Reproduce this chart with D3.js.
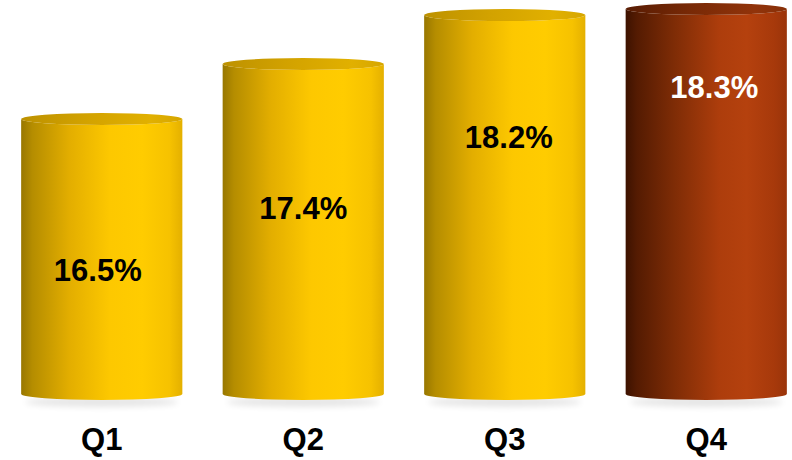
<!DOCTYPE html>
<html>
<head>
<meta charset="utf-8">
<script src="https://cdn.jsdelivr.net/npm/d3@7"></script>
<style>
  html, body { margin: 0; padding: 0; background: #ffffff; }
  svg { display: block; }
</style>
</head>
<body>
<svg id="chart" width="792" height="460"></svg>
<script>
// Quarterly rates shown as cylinders
const quarters = ["Q1", "Q2", "Q3", "Q4"];
const rates = [16.5, 17.4, 18.2, 18.3];
const highlight = ["Q4"];

const svg = d3.select("#chart");
const defs = svg.append("defs");

const x = d3.scaleBand()
  .domain(quarters)
  .range([1, 807])
  .paddingInner(0.2)
  .paddingOuter(0.1);

const y = d3.scaleLinear()
  .domain([12, d3.max(rates)])
  .range([394, 9]);

const ry = 6;

// Shading: body (side) and lid gradients for the two colourways
function makeGrad(id, stops) {
  const g = defs.append("linearGradient").attr("id", id)
    .attr("x1", "0%").attr("x2", "100%").attr("y1", "0%").attr("y2", "0%");
  stops.forEach(([o, c]) => g.append("stop").attr("offset", o).attr("stop-color", c));
}
makeGrad("sideGold", [
  [0, "#987700"], [0.07, "#b58d00"], [0.3, "#e3ae00"], [0.55, "#fdc800"],
  [0.75, "#ffcc00"], [0.92, "#f6c200"], [1, "#e4b000"]
]);
makeGrad("topGold", [
  [0, "#bd9100"], [0.4, "#d2a200"], [0.8, "#e1b000"], [1, "#d6a600"]
]);
makeGrad("sideRust", [
  [0, "#3d1200"], [0.07, "#541b02"], [0.3, "#7e2c06"], [0.58, "#ad3d0c"],
  [0.75, "#b5410e"], [0.92, "#a7390b"], [1, "#9a340a"]
]);
makeGrad("topRust", [
  [0, "#581c03"], [0.4, "#782906"], [0.8, "#91330a"], [1, "#873008"]
]);

// Soft floor shadow under each cylinder
const blur = defs.append("filter").attr("id", "soft")
  .attr("x", "-20%").attr("y", "-200%").attr("width", "140%").attr("height", "500%");
blur.append("feGaussianBlur").attr("stdDeviation", 3);

const g = svg.append("g");

const bars = g.selectAll("g.cyl")
  .data(quarters.map((q, i) => ({ q, v: rates[i], i })))
  .join("g").attr("class", "cyl");

bars.append("ellipse")
  .attr("cx", d => x(d.q) + x.bandwidth() / 2)
  .attr("cy", y(12) + 8)
  .attr("rx", x.bandwidth() / 2 - 4)
  .attr("ry", 5)
  .attr("fill", "#000")
  .attr("opacity", 0.10)
  .attr("filter", "url(#soft)");

bars.append("path")
  .attr("d", d => {
    const x0 = x(d.q), x1 = x0 + x.bandwidth(), rx = x.bandwidth() / 2;
    const yt = y(d.v), yb = y(12);
    return `M${x0},${yt} L${x0},${yb} A${rx},${ry} 0 0 0 ${x1},${yb} L${x1},${yt} A${rx},${ry} 0 0 1 ${x0},${yt} Z`;
  })
  .attr("fill", d => highlight.includes(d.q) ? "url(#sideRust)" : "url(#sideGold)");

bars.append("ellipse")
  .attr("cx", d => x(d.q) + x.bandwidth() / 2)
  .attr("cy", d => y(d.v))
  .attr("rx", x.bandwidth() / 2)
  .attr("ry", ry)
  .attr("fill", d => highlight.includes(d.q) ? "url(#topRust)" : "url(#topGold)");

// Value labels inside each cylinder, rising higher on the taller ones
bars.append("text")
  .attr("x", d => x(d.q) + x.bandwidth() / 2 - 4 + d.i * 4)
  .attr("y", d => {
    const yt = y(d.v), yb = y(12);
    return yb - (yb - yt) * (0.41 + 0.12 * d.i);
  })
  .attr("text-anchor", "middle")
  .attr("font-family", "'Liberation Sans', Arial, sans-serif")
  .attr("font-weight", "bold")
  .attr("font-size", 31)
  .attr("fill", d => highlight.includes(d.q) ? "#ffffff" : "#000000")
  .text(d => d.v.toFixed(1) + "%");

// Category axis (labels only)
const axis = g.append("g")
  .attr("transform", `translate(0, 450)`)
  .call(d3.axisBottom(x).tickSize(0).tickPadding(0));
axis.select(".domain").remove();
axis.selectAll("text")
  .attr("dy", 0)
  .attr("font-family", "'Liberation Sans', Arial, sans-serif")
  .attr("font-weight", "bold")
  .attr("font-size", 31)
  .attr("fill", "#000000");
</script>
</body>
</html>
